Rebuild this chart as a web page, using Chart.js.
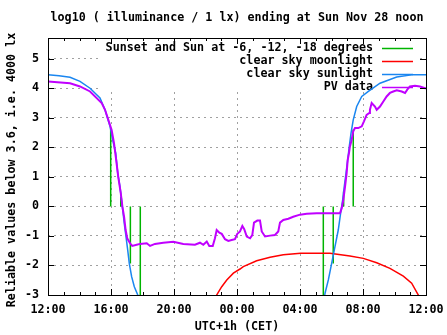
<!DOCTYPE html>
<html>
<head>
<meta charset="utf-8">
<script src="https://cdn.jsdelivr.net/npm/chart.js@4/dist/chart.umd.min.js"></script>
<style>
  html, body { margin: 0; padding: 0; background: #fff; }
</style>
</head>
<body>
<canvas id="myChart" width="447" height="335"></canvas>
<script>
// hours after Sat 12:00 (CET) -> log10(lux)
const sunTimes = [0, 0.7, 1.4, 2.03, 2.67, 3.3, 3.62, 3.94, 4.15, 4.30, 4.43, 4.57, 4.72, 4.84, 4.95, 5.06, 5.16, 5.31, 5.48, 5.70, 5.85,
                  12, 17.45, 17.59, 17.80, 18.01, 18.22, 18.43, 18.58, 18.71, 18.81, 18.92, 19.03, 19.13, 19.24, 19.38, 19.60, 19.92, 20.34, 21.08, 22.14, 23.19, 24];
const sunValues = [4.46, 4.42, 4.37, 4.23, 4.0, 3.67, 3.27, 2.7, 2.14, 1.8, 1.12, 0.67, 0, -0.57, -1.02, -1.47, -1.93, -2.38, -2.72, -3, -3.5,
                   null, -3.4, -2.94, -2.49, -1.93, -1.36, -0.8, -0.23, 0.22, 0.67, 1.12, 1.58, 2.03, 2.48, 2.93, 3.38, 3.72, 3.89, 4.17, 4.38, 4.46, 4.46];

const moonTimes = [10.6, 10.71, 11.03, 11.35, 11.77, 12.19, 12.40, 13.25, 14.10, 14.94, 16.04, 17.90, 19.17, 20.02, 20.87, 21.71, 22.56, 23.09, 23.51, 23.6];
const moonValues = [-3.4, -3, -2.72, -2.49, -2.26, -2.12, -2.04, -1.84, -1.72, -1.64, -1.59, -1.59, -1.68, -1.76, -1.91, -2.1, -2.36, -2.6, -3, -3.4];

const pvTimes = [0, 1.40, 2.03, 2.67, 3.41, 3.62, 3.83, 4.04, 4.19, 4.30, 4.46, 4.62, 4.72, 4.83, 4.93, 5.03, 5.21, 5.35, 5.63, 5.84,
                 6.27, 6.48, 6.79, 7.32, 7.96, 8.59, 9.33, 9.65, 9.86, 10.08, 10.24, 10.46, 10.60, 10.71, 10.88, 11.03, 11.24, 11.45, 11.66, 11.87,
                 12.02, 12.19, 12.34, 12.46, 12.62, 12.83, 12.97, 13.08, 13.29, 13.46, 13.57, 13.78, 14.10, 14.41, 14.62, 14.73, 14.94, 15.26, 15.57, 16.0,
                 16.43, 17.06, 17.90, 18.54, 18.65, 18.75, 18.86, 18.96, 19.03, 19.11, 19.17, 19.28, 19.38, 19.49, 19.70, 19.92, 20.06, 20.23, 20.40, 20.44,
                 20.55, 20.76, 20.87, 21.08, 21.29, 21.50, 21.71, 21.92, 22.14, 22.46, 22.67, 22.81, 22.98, 23.30, 23.62, 23.94, 24];
const pvValues = [4.23, 4.17, 4.06, 3.89, 3.5, 3.27, 2.93, 2.59, 2.14, 1.69, 1.0, 0.45, 0, -0.35, -0.8, -1.08, -1.25, -1.34, -1.3, -1.27,
                  -1.25, -1.34, -1.27, -1.23, -1.2, -1.27, -1.3, -1.23, -1.3, -1.19, -1.34, -1.34, -1.08, -0.8, -0.89, -0.93, -1.11, -1.17, -1.14, -1.11,
                  -0.93, -0.85, -0.66, -0.77, -1.02, -1.08, -0.97, -0.55, -0.48, -0.48, -0.85, -1.02, -0.99, -0.97, -0.85, -0.55, -0.46, -0.42, -0.35, -0.28,
                  -0.25, -0.23, -0.23, -0.23, -0.06, 0.22, 0.67, 1.12, 1.58, 1.8, 2.03, 2.25, 2.54, 2.65, 2.65, 2.71, 2.88, 3.1, 3.16, 3.27,
                  3.5, 3.38, 3.27, 3.38, 3.55, 3.72, 3.84, 3.89, 3.93, 3.89, 3.84, 3.95, 4.06, 4.08, 4.06, 4.0, 4.0];

// sunset/sunrise and sun at -6, -12, -18 degrees: vertical bars from 0 to these levels
const twilightTimes = [3.98, 4.62, 5.23, 5.86, 17.48, 18.11, 18.77, 19.38];
const twilightEnds = [2.65, 0.33, -1.93, -3, -3, -1.93, 0.5, 2.6];

const legendLabels = ['Sunset and Sun at -6, -12, -18 degrees', 'clear sky moonlight', 'clear sky sunlight', 'PV data'];
const colors = ['#00b400', '#ff0000', '#1a86f0', '#c000ff'];

const FONT = 'bold 11.7px "DejaVu Sans Mono"';

function pts(xs, ys) {
    return xs.map((x, i) => ({x: x, y: ys[i]}));
}

function twilightPoints() {
    let out = [];
    twilightTimes.forEach((t, i) => {
        out.push({x: t, y: 0}, {x: t, y: twilightEnds[i]}, {x: t, y: null});
    });
    return out;
}

function hourLabel(v) {
    let h = (12 + v) % 24;
    return (h < 10 ? '0' : '') + h + ':00';
}

const gnuplotFrame = {
    id: 'gnuplotFrame',
    beforeDatasetsDraw(chart) {
        // opaque key box, drawn over the grid but under the data
        const ctx = chart.ctx;
        ctx.save();
        ctx.fillStyle = '#fff';
        ctx.fillRect(100, 39, 317, 53);
        ctx.font = FONT;
        ctx.textAlign = 'right';
        ctx.textBaseline = 'middle';
        legendLabels.forEach((lab, i) => {
            let y = 48 + i * 13;
            ctx.fillStyle = '#000';
            ctx.fillText(lab, 373, y);
            ctx.strokeStyle = colors[i];
            ctx.lineWidth = 1.5;
            ctx.beginPath();
            ctx.moveTo(382, y + 0.5);
            ctx.lineTo(413, y + 0.5);
            ctx.stroke();
        });
        ctx.restore();
    },
    afterDraw(chart) {
        const ctx = chart.ctx;
        const a = chart.chartArea;
        const xs = chart.scales.x, ys = chart.scales.y;
        ctx.save();
        ctx.strokeStyle = '#000';
        ctx.lineWidth = 1;
        ctx.strokeRect(Math.round(a.left) + 0.5, Math.round(a.top) + 0.5, Math.round(a.right - a.left), Math.round(a.bottom - a.top));
        ctx.beginPath();
        for (let h = 0; h <= 24; h++) {
            let px = Math.round(xs.getPixelForValue(h)) + 0.5;
            let len = h % 4 === 0 ? 6 : 3;
            ctx.moveTo(px, a.bottom); ctx.lineTo(px, a.bottom - len);
            ctx.moveTo(px, a.top); ctx.lineTo(px, a.top + len);
        }
        for (let v = -3; v <= 5; v++) {
            let py = Math.round(ys.getPixelForValue(v)) + 0.5;
            ctx.moveTo(a.left, py); ctx.lineTo(a.left + 6, py);
            ctx.moveTo(a.right, py); ctx.lineTo(a.right - 6, py);
        }
        ctx.stroke();

        ctx.fillStyle = '#000';
        ctx.font = FONT;
        ctx.textAlign = 'center';
        ctx.textBaseline = 'middle';
        ctx.fillText('log10 ( illuminance / 1 lx) ending at Sun Nov 28 noon', 237, 18);
        ctx.fillText('UTC+1h (CET)', 237, 327);
        ctx.translate(12, 170);
        ctx.rotate(-Math.PI / 2);
        ctx.fillText('Reliable values below 3.6, i.e. 4000 lx', 0, 0);
        ctx.restore();
    }
};

let ctx = document.getElementById('myChart').getContext('2d');
let chart = new Chart(ctx, {
    type: 'line',
    data: {
        datasets: [
            {label: legendLabels[0], data: twilightPoints(), borderColor: colors[0], borderWidth: 1.5, spanGaps: false, order: 4},
            {label: legendLabels[1], data: pts(moonTimes, moonValues), borderColor: colors[1], borderWidth: 1.5, order: 3},
            {label: legendLabels[2], data: pts(sunTimes, sunValues), borderColor: colors[2], borderWidth: 1.5, spanGaps: false, order: 2},
            {label: legendLabels[3], data: pts(pvTimes, pvValues), borderColor: colors[3], borderWidth: 2, order: 1}
        ]
    },
    options: {
        responsive: false,
        animation: false,
        layout: {padding: {top: 38, right: 21, left: 0, bottom: 0}},
        elements: {point: {radius: 0}, line: {tension: 0, fill: false}},
        plugins: {legend: {display: false}, tooltip: {enabled: false}, title: {display: false}},
        scales: {
            x: {
                type: 'linear', min: 0, max: 24,
                ticks: {stepSize: 4, autoSkip: false, maxRotation: 0, color: '#000', font: {family: 'DejaVu Sans Mono', size: 11.7, weight: 'bold'}, padding: 8,
                        callback: v => hourLabel(v)},
                grid: {color: '#a0a0a0', drawTicks: false},
                border: {display: false, dash: [2, 4]},
                afterFit: s => { s.height = 40; s.paddingLeft = 0; s.paddingRight = 0; }
            },
            y: {
                min: -3, max: 5.7,
                ticks: {stepSize: 1, includeBounds: false, color: '#000', font: {family: 'DejaVu Sans Mono', size: 11.7, weight: 'bold'}, padding: 9,
                        callback: v => Number.isInteger(v) ? String(v) : ''},
                grid: {color: '#a0a0a0', drawTicks: false},
                border: {display: false, dash: [2, 4]},
                afterFit: s => { s.width = 48; s.paddingTop = 0; s.paddingBottom = 0; }
            }
        }
    },
    plugins: [gnuplotFrame]
});
</script>
</body>
</html>
